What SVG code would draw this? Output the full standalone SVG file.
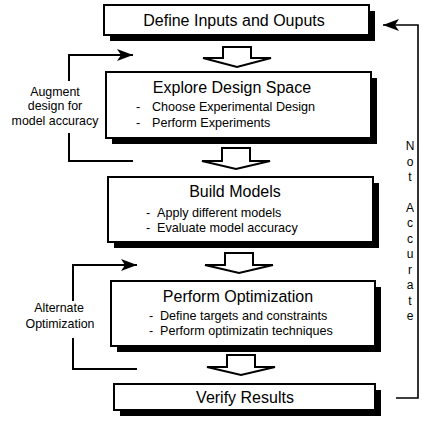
<svg xmlns="http://www.w3.org/2000/svg" width="422" height="421" viewBox="0 0 422 421">
<defs>
<style>
.box{fill:#fff;stroke:#000;stroke-width:2}
.sh{fill:#000}
.ttl{font-family:"Liberation Sans",Arial,sans-serif;font-size:16px;text-anchor:middle;fill:#000}
.bul{font-family:"Liberation Sans",Arial,sans-serif;font-size:12.6px;fill:#000}
.lbl{font-family:"Liberation Sans",Arial,sans-serif;font-size:12.4px;text-anchor:middle;fill:#000}
.ln{fill:none;stroke:#000;stroke-width:2}
.blk{fill:#fff;stroke:#000;stroke-width:2;stroke-linejoin:miter}
</style>
<marker id="ah" viewBox="0 0 16 12" refX="16" refY="6" markerWidth="16" markerHeight="12" orient="auto" markerUnits="userSpaceOnUse"><path d="M0,0 L16,6 L0,12 L4,6 Z" fill="#000"/></marker>
</defs>
<g id="n1">
<rect class="sh" x="110" y="11" width="265" height="30"/>
<rect class="box" x="104" y="5" width="265" height="30"/>
<text class="ttl" x="234" y="26">Define Inputs and Ouputs</text>
</g>
<g id="n2">
<rect class="sh" x="112" y="78" width="265" height="66"/>
<rect class="box" x="106" y="72" width="265" height="66"/>
<text class="ttl" x="232" y="93">Explore Design Space</text>
<text class="bul" y="111"><tspan x="136">-</tspan><tspan x="152">Choose Experimental Design</tspan></text>
<text class="bul" y="127"><tspan x="136">-</tspan><tspan x="152">Perform Experiments</tspan></text>
</g>
<g id="n3">
<rect class="sh" x="114" y="183" width="265" height="65"/>
<rect class="box" x="108" y="177" width="265" height="65"/>
<text class="ttl" x="235" y="197">Build Models</text>
<text class="bul" y="217"><tspan x="146">-</tspan><tspan x="157">Apply different models</tspan></text>
<text class="bul" y="232"><tspan x="146">-</tspan><tspan x="157">Evaluate model accuracy</tspan></text>
</g>
<g id="n4">
<rect class="sh" x="117" y="287" width="264" height="65"/>
<rect class="box" x="111" y="281" width="264" height="65"/>
<text class="ttl" x="238" y="302">Perform Optimization</text>
<text class="bul" y="320"><tspan x="149">-</tspan><tspan x="160">Define targets and constraints</tspan></text>
<text class="bul" y="335"><tspan x="149">-</tspan><tspan x="160">Perform optimizatin techniques</tspan></text>
</g>
<g id="n5">
<rect class="sh" x="120" y="390" width="261" height="26"/>
<rect class="box" x="114" y="384" width="261" height="26"/>
<text class="ttl" x="245" y="403">Verify Results</text>
</g>
<g id="connectors">
<path class="blk" d="M223,47 H251 V58 H271 L237,67 L203,58 H223 Z"/>
<path class="blk" d="M222,148 H250 V161 H270 L236,169 L202,161 H222 Z"/>
<path class="blk" d="M225,253 H253 V265 H273 L239,273 L205,265 H225 Z"/>
<path class="blk" d="M227,355 H255 V367 H275 L241,375 L207,367 H227 Z"/>
<path class="ln" d="M133,161 H69 V133"/>
<path class="ln" d="M69,81 V55 H133" marker-end="url(#ah)"/>
<text class="lbl" x="55" y="96">Augment</text>
<text class="lbl" x="55" y="110">design for</text>
<text class="lbl" x="55" y="125">model accuracy</text>
<path class="ln" d="M137,369 H73 V338"/>
<path class="ln" d="M73,301 V265 H137" marker-end="url(#ah)"/>
<text class="lbl" x="59" y="312">Alternate</text>
<text class="lbl" x="60" y="328">Optimization</text>
<path class="ln" d="M396,398 H418 V25 H383" marker-end="url(#ah)" style="stroke-width:1.6"/>
<text class="lbl" x="410" style="font-size:12px">
<tspan x="410" y="150">N</tspan><tspan x="410" y="165.5">o</tspan><tspan x="410" y="181">t</tspan><tspan x="410" y="212">A</tspan><tspan x="410" y="227.4">c</tspan><tspan x="410" y="242.8">c</tspan><tspan x="410" y="258.3">u</tspan><tspan x="410" y="273.7">r</tspan><tspan x="410" y="289.2">a</tspan><tspan x="410" y="304.6">t</tspan><tspan x="410" y="320">e</tspan>
</text>
</g>
</svg>
